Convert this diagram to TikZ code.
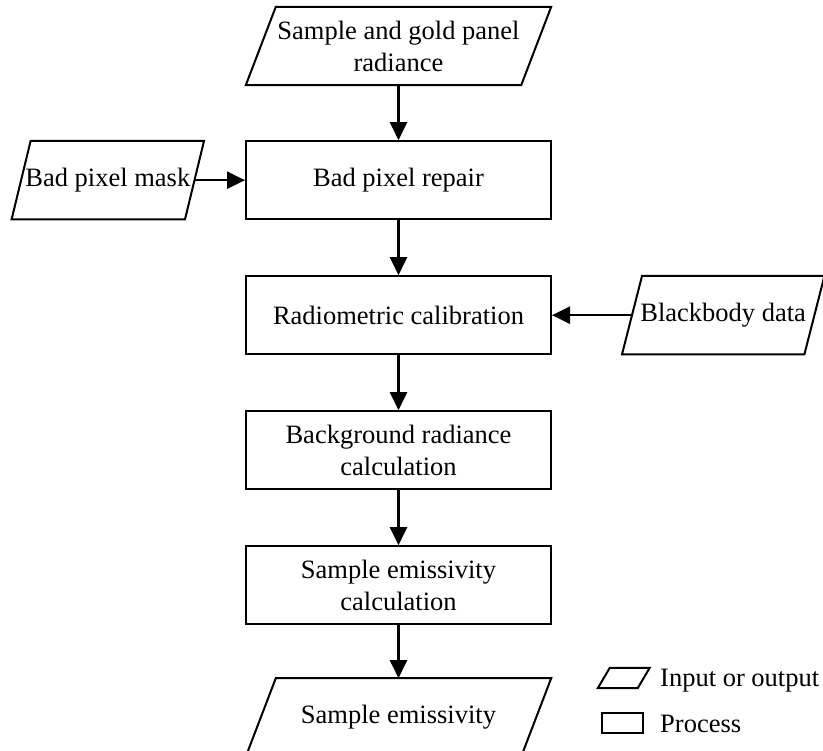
\documentclass[tikz,border=0pt]{standalone}
\usepackage{fontspec}
\setmainfont{Liberation Serif}
\usetikzlibrary{arrows.meta, positioning}

\begin{document}
\begin{tikzpicture}[
    x=1pt, y=1pt,
    node distance=55pt,
    every node/.style={font=\fontsize{26.5}{32}\selectfont, inner sep=2pt},
    procbox/.style={rectangle, draw, line width=2pt, minimum width=305pt, minimum height=78pt, align=center},
    iobox/.style={rectangle, minimum height=78pt, align=center},
    arrow/.style={-{Triangle[length=18pt, width=17pt]}, line width=2.4pt}
]
\useasboundingbox (0,0) rectangle (823,751);

\node[iobox, minimum width=275pt] (input) at (398.5,705) {Sample and gold panel\\radiance};
\node[procbox, below=of input] (repair) {Bad pixel repair};
\node[iobox, minimum width=173pt, left=50.5pt of repair] (mask) {Bad pixel mask};
\node[procbox, below=of repair] (calib) {Radiometric calibration};
\node[iobox, minimum width=182pt, right=80pt of calib] (black) {Blackbody data};
\node[procbox, below=of calib] (bgcalc) {Background radiance\\calculation};
\node[procbox, below=of bgcalc] (emcalc) {Sample emissivity\\calculation};
\node[iobox, minimum width=275pt, below=53pt of emcalc] (output) {Sample emissivity};

% legend
\node[minimum width=39.5pt, minimum height=20pt] (keyio) at (623.75,73) {};
\node[draw, line width=2pt, minimum width=41pt, minimum height=20pt] (keyproc) at (622.5,28) {};
\node[anchor=base west] (keyiotext) at (658,64) {Input or output};
\node[anchor=base west] (keyproctext) at (658,18) {Process};

% slanted outlines of the input/output nodes
\foreach \n/\s in {input/15, mask/9.5, black/10, output/15, keyio/6}
  \draw[line width=2pt] ([xshift=-\s pt]\n.south west) -- ([xshift=-\s pt]\n.south east)
    -- ([xshift=\s pt]\n.north east) -- ([xshift=\s pt]\n.north west) -- cycle;

\draw[arrow] (input) -- (repair);
\draw[arrow] (mask) -- (repair);
\draw[arrow] (repair) -- (calib);
\draw[arrow] (black) -- (calib);
\draw[arrow] (calib) -- (bgcalc);
\draw[arrow] (bgcalc) -- (emcalc);
\draw[arrow] (emcalc) -- (output);
\end{tikzpicture}
\end{document}
